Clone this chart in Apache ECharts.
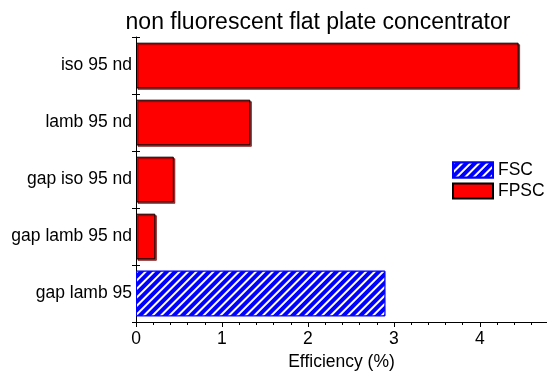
<!DOCTYPE html>
<html>
<head>
<meta charset="utf-8">
<script src="https://cdn.jsdelivr.net/npm/echarts@6/dist/echarts.min.js"></script>
<style>
  html, body { margin: 0; padding: 0; background: #fff; }
  #chart { width: 547px; height: 372px; }
</style>
</head>
<body>
<div id="chart"></div>
<script>
// Efficiency of the non fluorescent flat plate concentrator designs
const categories = ['iso 95 nd', 'lamb 95 nd', 'gap iso 95 nd', 'gap lamb 95 nd', 'gap lamb 95'];
const fscValues  = [null, null, null, null, 2.90];
const fpscValues = [4.45, 1.33, 0.44, 0.225, null];
const xTickValues = [0, 1, 2, 3, 4];

const FONT = 'Liberation Sans, Arial, Helvetica, sans-serif';
const AXIS_MAX = 4.78;

const chart = echarts.init(document.getElementById('chart'), null, { renderer: 'canvas' });

const option = {
  animation: false,
  aria: { enabled: false },
  title: {
    text: 'non fluorescent flat plate concentrator',
    left: 313,
    top: 6,
    textAlign: 'center',
    textStyle: { fontFamily: FONT, fontSize: 23, fontWeight: 'normal', color: '#000' }
  },
  legend: {
    orient: 'vertical',
    left: 447,
    top: 156,
    itemWidth: 40,
    itemHeight: 15,
    itemGap: 3,
    icon: 'rect',
    textStyle: { fontFamily: FONT, fontSize: 17.5, color: '#000' },
    data: ['FSC', 'FPSC']
  },
  grid: {
    left: 136, right: 547 - 136 - 411, top: 37, bottom: 50,
    containLabel: false,
    outerBoundsMode: 'none'
  },
  xAxis: [
    {
      type: 'value',
      min: 0,
      max: AXIS_MAX,
      interval: 1,
      name: 'Efficiency (%)',
      nameLocation: 'middle',
      nameGap: 29,
      nameTextStyle: { fontFamily: FONT, fontSize: 17.5, color: '#000' },
      axisLine: { show: true, lineStyle: { color: '#000', width: 1 } },
      axisTick: { show: true, length: 5, lineStyle: { color: '#000' } },
      axisLabel: {
        fontFamily: FONT, fontSize: 17.5, color: '#000', margin: 8,
        showMaxLabel: false,
        formatter: v => (xTickValues.indexOf(v) >= 0 ? String(v) : '')
      },
      splitLine: { show: false }
    },
    {
      // minor ticks every 0.2
      type: 'value',
      position: 'bottom',
      min: 0,
      max: AXIS_MAX,
      interval: 0.2,
      axisLine: { show: false },
      axisTick: { show: true, length: 3, lineStyle: { color: '#000' } },
      axisLabel: { show: false },
      splitLine: { show: false }
    }
  ],
  yAxis: [
    {
      type: 'category',
      data: categories,
      inverse: true,
      axisLine: { show: true, lineStyle: { color: '#000', width: 1 } },
      axisTick: { show: true, length: 4, alignWithLabel: false, lineStyle: { color: '#000' } },
      axisLabel: { fontFamily: FONT, fontSize: 17.5, color: '#000', margin: 4 },
      splitLine: { show: false }
    },
    {
      // inward half of the crossing category ticks
      type: 'category',
      data: categories,
      inverse: true,
      position: 'left',
      axisLine: { show: false },
      axisTick: { show: true, inside: true, length: 4, lineStyle: { color: '#000' } },
      axisLabel: { show: false },
      splitLine: { show: false }
    }
  ],
  series: [
    {
      name: 'FSC',
      type: 'bar',
      stack: 'eff',
      barWidth: '80%',
      data: fscValues,
      itemStyle: {
        color: '#0000ff',
        borderColor: '#0000ff',
        borderWidth: 1,
        decal: {
          symbol: 'rect',
          color: '#ffffff',
          dashArrayX: [1, 0],
          dashArrayY: [2, 4],
          rotation: -Math.PI / 4
        }
      }
    },
    {
      name: 'FPSC',
      type: 'bar',
      stack: 'eff',
      barWidth: '80%',
      data: fpscValues,
      itemStyle: {
        color: '#ff0000',
        borderColor: '#000000',
        borderWidth: 1,
        shadowColor: 'rgba(120,0,0,0.75)',
        shadowBlur: 0,
        shadowOffsetX: 1.5,
        shadowOffsetY: 1.5
      }
    }
  ]
};

chart.setOption(option);
</script>
</body>
</html>
